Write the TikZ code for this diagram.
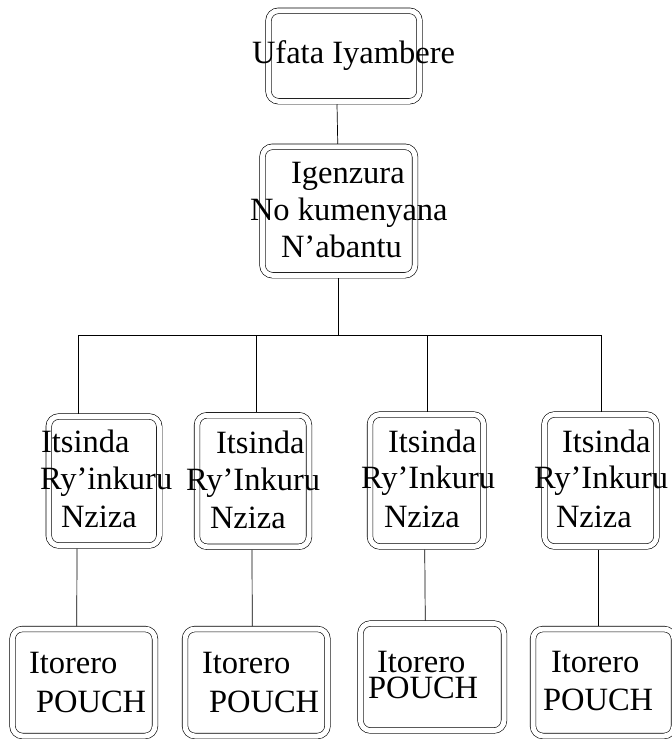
\documentclass[tikz,border=0pt]{standalone}
\usepackage{fontspec}
\setmainfont{Liberation Serif}
\begin{document}
\begin{tikzpicture}[x=1pt,y=-1pt,
  framebox/.style={draw=black, line width=0.6pt, double=white, double distance=5pt,
    rounded corners=10pt, inner sep=0pt, outer sep=3pt},
  label/.style={anchor=base west, inner sep=0pt, outer sep=0pt,
    font=\fontsize{32.5}{38}\selectfont},
  link/.style={draw=black, line width=0.7pt}]
\useasboundingbox (0,0) rectangle (672,739);

% frames: top, middle, group row, choir row
\node[framebox, minimum width=151pt, minimum height=90.5pt] (b1) at (344,56) {};
\node[framebox, minimum width=152.5pt, minimum height=128.5pt] (b2) at (338.75,211) {};
\node[framebox, minimum width=110.5pt, minimum height=129pt] (bA) at (104,481) {};
\node[framebox, minimum width=112pt, minimum height=131.5pt] (bB) at (253,481) {};
\node[framebox, minimum width=113.5pt, minimum height=132pt] (bC) at (426.75,480.5) {};
\node[framebox, minimum width=112pt, minimum height=132pt] (bD) at (600.5,480.5) {};
\node[framebox, minimum width=142.5pt, minimum height=107pt] (bE) at (83.75,682.5) {};
\node[framebox, minimum width=142.5pt, minimum height=107pt] (bF) at (256.25,682.5) {};
\node[framebox, minimum width=143.5pt, minimum height=107pt] (bG) at (432.25,677) {};
\node[framebox, minimum width=141pt, minimum height=107pt] (bH) at (603.5,682.5) {};

% labels
\node[label] (t1) at (252,63) {Ufata Iyambere};
\node[label] (t2a) at (291,183) {Igenzura};
\node[label] (t2b) at (250,220) {No kumenyana};
\node[label] (t2c) at (281,257) {N’abantu};

\node[label] (tAa) at (41,452) {Itsinda};
\node[label] (tAb) at (40,489) {Ry’inkuru};
\node[label] (tAc) at (61,527) {Nziza};
\node[label] (tBa) at (216,453) {Itsinda};
\node[label] (tBb) at (186,490) {Ry’Inkuru};
\node[label] (tBc) at (210,528) {Nziza};
\node[label] (tCa) at (388,452) {Itsinda};
\node[label] (tCb) at (361,488) {Ry’Inkuru};
\node[label] (tCc) at (384,527) {Nziza};
\node[label] (tDa) at (562,452) {Itsinda};
\node[label] (tDb) at (534,488) {Ry’Inkuru};
\node[label] (tDc) at (556,527) {Nziza};

\node[label] (tEa) at (29,673) {Itorero};
\node[label] (tEb) at (36,712) {POUCH};
\node[label] (tFa) at (202,673) {Itorero};
\node[label] (tFb) at (209,712) {POUCH};
\node[label] (tGa) at (377,672) {Itorero};
\node[label] (tGb) at (368,698) {POUCH};
\node[label] (tHa) at (551,672) {Itorero};
\node[label] (tHb) at (543,710) {POUCH};

% connectors
\coordinate (busL) at (78,335);
\coordinate (busR) at (601,335);
\draw[link] ([xshift=-7pt]b1.south) -- ([xshift=-1pt]b2.north);
\draw[link] (b2.south) -- (b2.south |- busL);
\draw[link] (busL) -- (busR);
\draw[link] (busL) -- (busL |- bA.north);
\draw[link] ([xshift=3pt]bB.north |- busL) -- ([xshift=3pt]bB.north);
\draw[link] ([xshift=1pt]bC.north |- busL) -- ([xshift=1pt]bC.north);
\draw[link] (busR) -- (busR |- bD.north);

\draw[link] ([xshift=-27pt]bA.south) -- ([xshift=-7pt]bE.north);
\draw[link] ([xshift=-1pt]bB.south) -- ([xshift=-4pt]bF.north);
\draw[link] ([xshift=-2pt]bC.south) -- ([xshift=-7pt]bG.north);
\draw[link] ([xshift=-2.5pt]bD.south) -- ([xshift=-5.5pt]bH.north);
\end{tikzpicture}
\end{document}
